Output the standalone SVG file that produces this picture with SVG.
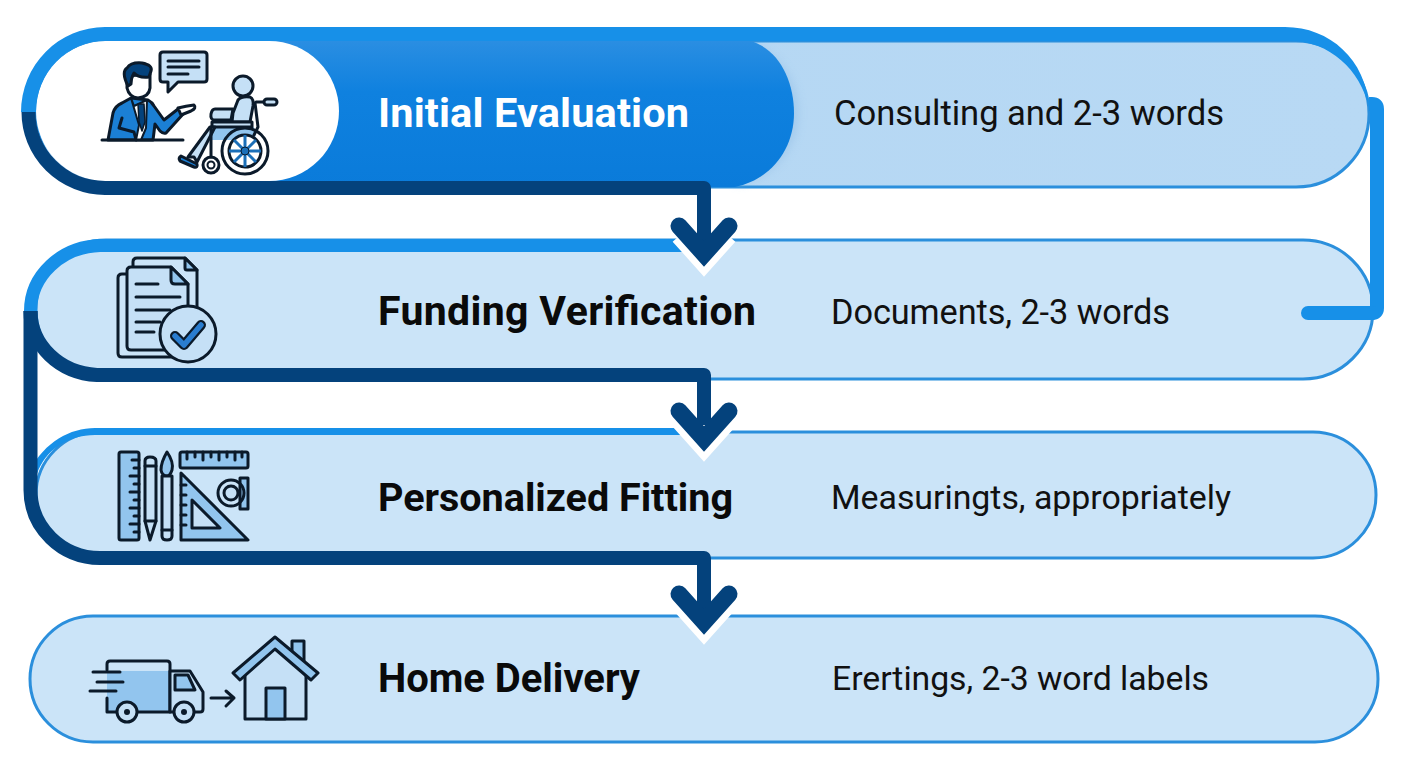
<svg xmlns="http://www.w3.org/2000/svg" width="1408" height="768" viewBox="0 0 1408 768">
<style>
.pill{stroke:#2b8fdc;stroke-width:3}
.title{font-family:Roboto,"Liberation Sans",sans-serif;font-weight:700;fill:#0a0a0a}
.sub{font-family:Roboto,"Liberation Sans",sans-serif;font-weight:400;fill:#111}
.ic{stroke:#0b1a2a;stroke-width:3;stroke-linejoin:round;stroke-linecap:round;fill:none}
.l1{fill:#c5e0f6}.l2{fill:#92c5ee}.l3{fill:#1b7fd4}.l4{fill:#fff}
.blue{fill:none;stroke:#1790e8;stroke-width:14}
.dark{fill:none;stroke:#04427c;stroke-width:14;stroke-linejoin:round}
</style>
<defs>
<linearGradient id="g1" x1="0" y1="0" x2="0" y2="1"><stop offset="0" stop-color="#2a8ee2"/><stop offset=".35" stop-color="#0f81df"/><stop offset="1" stop-color="#0a7bda"/></linearGradient>
<linearGradient id="p1" x1="0" y1="0" x2="1" y2="0"><stop offset="0" stop-color="#b3d6f3"/><stop offset="1" stop-color="#b8d9f4"/></linearGradient>
<filter id="sh" x="-20%" y="-10%" width="140%" height="120%"><feGaussianBlur stdDeviation="5"/></filter>
</defs>
<rect width="1408" height="768" fill="#fff"/>

<g id="node-1">
<rect class="pill" x="36" y="41" width="1333" height="146" rx="73" fill="url(#p1)"/>
<path d="M750 44C778 52 798 80 798 113C798 150 772 178 735 185Z" fill="#7fb0de" opacity=".35" filter="url(#sh)"/>
<path d="M109 41H750C778 48 794 80 794 113C794 150 770 180 735 187H109Z" fill="url(#g1)"/>
<rect x="36" y="41" width="303" height="140" rx="70" fill="#fff"/>
<g id="icon-evaluation">
<path class="ic l1" d="M163 52H204Q207 52 207 55V79Q207 82 204 82H178L168 92V82H163Q160 82 160 79V55Q160 52 163 52Z"/>
<path class="ic" d="M168 61H199M168 67H199M168 74H188"/>
<path class="ic l3" d="M108 140L113 113Q115 106 122 103L131 98L148 100Q152 102 154 106L164 120L178 109L184 113L166 133Q163 134 160 131L155 124L153 140Z"/>
<path class="ic l4" d="M178 108Q186 106 194 105Q197 108 191 111L181 115Z" stroke-width="2.5"/>
<path class="ic" d="M122 118L119 128L134 132L136 140" stroke-width="2.5"/>
<path d="M131 98L134 106L147 100L146 128L141 140H136L139 125Z" fill="#fff" stroke="#0b1a2a" stroke-width="2" stroke-linejoin="round"/>
<path d="M138 104H144L145 122L142 131L139 122Z" fill="#04427c" stroke="#0b1a2a" stroke-width="1.5" stroke-linejoin="round"/>
<path class="ic l4" d="M127 76V88Q129 97 138 98Q149 97 150 88V74Z"/>
<path d="M128 86Q121 72 127 68Q131 62 142 63Q153 65 151 71L149 77Q138 78 134 73Q131 78 131 84Z" fill="#04427c" stroke="#0b1a2a" stroke-width="3" stroke-linejoin="round"/>
<path class="ic" d="M102 140H183"/>
<circle class="ic l1" cx="243" cy="86" r="10"/>
<path class="l2" d="M212 127H254L256 140H212Z"/>
<path class="ic l1" d="M233 113L238 100Q241 96 250 97Q254 99 253 106L250 122H232Z"/>
<path class="ic l1" d="M215 109H233L231 120H215Q210 120 211 114Q212 109 215 109Z"/>
<path class="ic l1" d="M212 122H252V127H212Z" stroke-width="2.5"/>
<path class="ic l1" d="M210 127H215L197 162L194 157L188 157Z"/>
<path class="ic l3" d="M181 156L197 164Q198 168 194 167L180 161Q178 158 181 156Z"/>
<path class="ic" d="M211 127V157M255 103L258 127L254 135M265 102H256L255 103"/>
<rect class="ic l1" x="264" y="99" width="13" height="6" rx="3"/>
<circle class="ic" cx="245" cy="151" r="23" fill="#1b6fb8"/>
<circle class="ic l4" cx="245" cy="151" r="16"/>
<path d="M245 135V167M229 151H261M234 140L256 162M234 162L256 140" stroke="#1b6fb8" stroke-width="3"/>
<circle cx="245" cy="151" r="4" fill="#1b6fb8" stroke="#0b1a2a"/>
<circle class="ic" cx="211" cy="165" r="8" fill="#1b7fd4"/>
<circle cx="211" cy="165" r="3.500" fill="#fff" stroke="#0b1a2a" stroke-width="2"/>
</g>
<text class="title" x="378" y="127" font-size="41.500" textLength="311" style="fill:#fff">Initial Evaluation</text>
<text class="sub" x="834" y="125" font-size="34.600" textLength="390">Consulting and 2-3 words</text>
</g>

<g id="node-2">
<rect class="pill" x="36" y="240" width="1337" height="139" rx="70" fill="#cbe4f8"/>
<g id="icon-documents">
<path class="ic" d="M133 267V262Q133 258 137 258H185L197 270V320"/>
<path class="ic l2" d="M185 258V268Q185 270 187 270H197Z"/>
<path class="ic" d="M127 274H122Q118 274 118 278V353Q118 357 122 357H172"/>
<path class="ic l1" d="M131 267H171L188 284V350H131Q127 350 127 346V271Q127 267 131 267Z"/>
<path class="ic l2" d="M171 267V280Q171 284 175 284H188Z"/>
<path class="ic" d="M136 284H158M136 297H180M136 310H170M136 322H160M136 332H154"/>
<circle class="ic l1" cx="188" cy="334" r="28"/>
<path d="M175 336L184 345L201 325" fill="none" stroke="#0b1a2a" stroke-width="10" stroke-linecap="round" stroke-linejoin="round"/>
<path d="M175 336L184 345L201 325" fill="none" stroke="#2a7dd0" stroke-width="5.500" stroke-linecap="round" stroke-linejoin="round"/>
</g>
<text class="title" x="378" y="324.500" font-size="41" textLength="378">Funding Verification</text>
<text class="sub" x="831" y="323.500" font-size="34.300" textLength="339">Documents, 2-3 words</text>
</g>

<g id="node-3">
<rect class="pill" x="36" y="432" width="1340" height="126" rx="63" fill="#cbe4f8"/>
<g id="icon-tools">
<rect class="ic l2" x="119" y="452" width="20" height="88" rx="2"/>
<path class="ic" d="M139 460H132M139 468H134M139 476H130M139 484H134M139 492H130M139 500H134M139 508H130M139 516H134M139 524H130M139 532H134"/>
<path class="ic l1" d="M145 461Q145 457 150 457Q156 457 156 461V521L150 540L145 521Z"/>
<path class="ic" d="M145 466H156M145 521H156"/>
<path class="ic l2" d="M167 452Q174 462 172 470Q170 476 167 476Q162 476 161 470Q161 462 167 452Z"/>
<path class="ic l1" d="M162 476H172V536Q172 540 167 540Q162 540 162 536Z"/>
<path class="ic" d="M162 530H172"/>
<rect class="ic l2" x="180" y="452" width="68" height="16" rx="2"/>
<path class="ic" d="M187 452V459M195 452V457M203 452V460M211 452V457M219 452V460M227 452V457M235 452V460M242 452V457"/>
<path class="ic l2" d="M181 473L248 540H181Z"/>
<path class="ic l1" d="M192 500L220 528H192Z"/>
<path class="ic" d="M181 485H186M181 495H186M181 505H186M181 515H186M181 525H186"/>
<path class="ic l2" d="M240 478H248V509H240Z" stroke-width="2.500"/>
<circle class="ic" cx="231" cy="493" r="13" fill="#a9d0f1"/>
<circle class="ic l1" cx="231" cy="493" r="7" stroke-width="2.500"/>
</g>
<text class="title" x="378" y="511" font-size="39.600" textLength="355">Personalized Fitting</text>
<text class="sub" x="831" y="508.500" font-size="33.900" textLength="400">Measuringts, appropriately</text>
</g>

<g id="node-4">
<rect class="pill" x="30" y="616" width="1348" height="126" rx="63" fill="#cbe4f8"/>
<g id="icon-delivery">
<path class="l2" d="M107 671H170V712H107Z"/>
<path class="ic" d="M107 670V664Q107 661 110 661H167Q170 661 170 664V712H107V698"/>
<path class="ic l1" d="M170 671H190L203 692V709Q203 712 200 712H170Z"/>
<path class="ic l2" d="M175 675H188L195 690H175Z"/>
<path class="ic" d="M93 672H120M97 682H123M90 691H116"/>
<circle class="ic l1" cx="127" cy="712" r="10"/>
<circle cx="127" cy="712" r="3" fill="#0b1a2a"/>
<circle class="ic l1" cx="184" cy="712" r="10"/>
<circle cx="184" cy="712" r="3" fill="#0b1a2a"/>
<path class="ic" d="M211 698H234M226 691L234 698L226 706"/>
<path class="ic l2" d="M292 652V641H304V664Z"/>
<path class="ic l1" d="M245 665L275 641L306 665V719H245Z"/>
<path class="ic l2" d="M266 688H285V719H266Z"/>
<path class="ic l2" d="M275 637L318 673L311 680L275 649L240 680L233 673Z"/>
</g>
<text class="title" x="378" y="692" font-size="40" textLength="262">Home Delivery</text>
<text class="sub" x="832" y="689.500" font-size="33.800" textLength="377">Erertings, 2-3 word labels</text>
</g>

<g id="connectors">
<path d="M105 27H1285C1330 27 1366 60 1369 107C1360 70 1330 41 1290 41H105A69 71 0 0 0 36 112H21A84 85 0 0 1 105 27Z" fill="#1790e8"/>
<path class="dark" d="M28.500 112A77 76 0 0 0 105 188H704V245"/>
<path class="blue" d="M1369 104H1372Q1377 104 1377 109V308Q1377 313 1372 313H1308"/>
<path d="M1372 313H1308" fill="none" stroke="#1790e8" stroke-width="14" stroke-linecap="round"/>
<path d="M30.500 311A72 65.500 0 0 1 100 245.500H690" fill="none" stroke="#1790e8" stroke-width="13"/>
<path d="M30 470C45 442 70 428 95 428H680V435H95C68 435 45 450 37 474Z" fill="#1790e8"/>
<path class="dark" d="M30.500 311A70 64 0 0 0 97 375H704V425"/>
<path class="dark" d="M30.500 311V490A70 68 0 0 0 100 558H704V610"/>
<g fill="none" stroke-linejoin="miter" stroke-miterlimit="10">
<path d="M679 236L704 264L729 236" stroke="#fff" stroke-width="17"/>
<path d="M679 421L704 449L729 421" stroke="#fff" stroke-width="17"/>
<path d="M679 604L704 632L729 604" stroke="#fff" stroke-width="17"/>
<g stroke="#04427c" stroke-width="17" stroke-linecap="round">
<path d="M679 226L704 254L729 226"/>
<path d="M679 411L704 439L729 411"/>
<path d="M679 594L704 622L729 594"/>
</g>
</g>
</g>
</svg>
